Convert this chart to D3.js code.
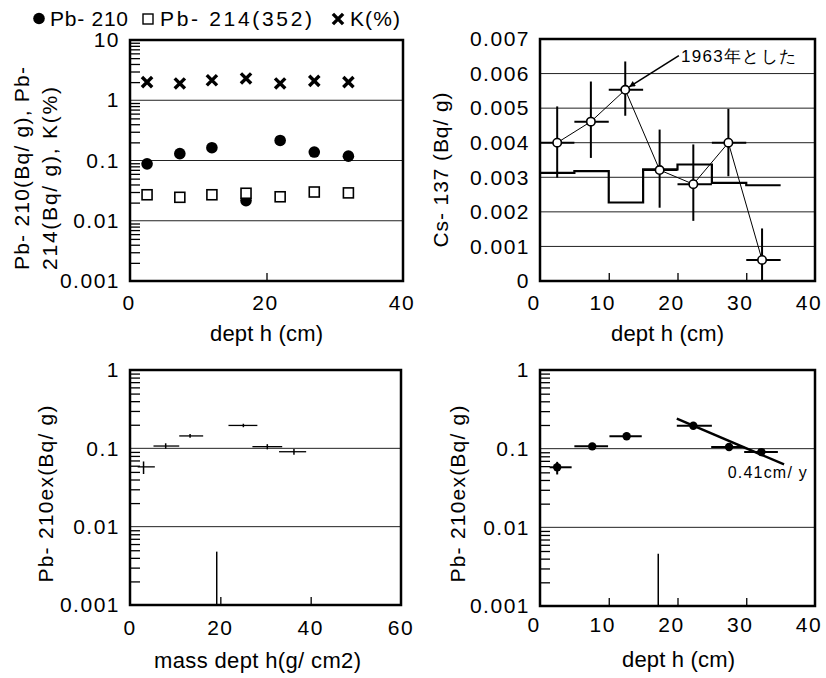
<!DOCTYPE html>
<html>
<head>
<meta charset="utf-8">
<script src="https://cdn.jsdelivr.net/npm/d3@7"></script>
<style>
body { margin: 0; background: #fff; }
text { font-family: "Liberation Sans", Arial, sans-serif; fill: #000; }
</style>
</head>
<body>
<div id="chart"></div>
<script>
var chart_width  = 826;
var chart_height = 678;

// --- panel 1: Pb-210, Pb-214, K vs depth
var depth_cm = [2.5, 7.3, 12, 17, 22, 27, 32];
var k_pct    = [2.0, 1.9, 2.15, 2.3, 1.9, 2.1, 2.0];
var pb210    = [0.088, 0.13, 0.163, 0.0216, 0.215, 0.138, 0.118];
var pb214    = [0.027, 0.0245, 0.027, 0.0286, 0.025, 0.030, 0.029];

// --- panel 2: Cs-137
var cs_depth = [2.5, 7.4, 12.4, 17.4, 22.3, 27.4, 32.3];
var cs_val   = [0.0040, 0.00461, 0.00553, 0.00321, 0.0028, 0.0040, 0.00061];
var cs_hi    = [0.00505, 0.00577, 0.00635, 0.00438, 0.00395, 0.00498, 0.00152];
var cs_lo    = [0.00299, 0.00356, 0.00478, 0.00212, 0.00174, 0.00303, 0.0];
var cs_xlo   = [0, 5, 10, 15, 20, 25, 30];
var cs_xhi   = [5, 10, 15, 20, 25, 30, 35];
var step_edges = [0, 5, 10, 15, 20, 25, 30, 35];
var step_vals  = [0.00313, 0.00318, 0.00227, 0.00323, 0.00337, 0.00284, 0.00277];

// --- panel 3: Pb-210ex vs mass depth
var md_x   = [3.0, 7.9, 13.3, 25.1, 30.4, 36.3];
var md_xlo = [1.7, 5.2, 10.9, 21.8, 27.1, 33.0];
var md_xhi = [5.5, 10.9, 16.2, 28.2, 33.7, 39.0];
var ex_val = [0.058, 0.107, 0.144, 0.196, 0.105, 0.0905];
var ex_lo  = [0.047, 0.099, 0.136, 0.186, 0.097, 0.083];
var ex_hi  = [0.068, 0.116, 0.152, 0.206, 0.113, 0.098];
var md_spike = [19.2, 0.0048];

// --- panel 4: Pb-210ex vs depth
var d_x   = [2.5, 7.6, 12.6, 22.3, 27.5, 32.2];
var d_xlo = [1.4, 5.0, 10.1, 19.9, 24.9, 29.7];
var d_xhi = [4.6, 9.9, 14.8, 25.0, 29.7, 34.6];
var d_spike = [17.2, 0.0046];
var fit_x = [19.9, 35.5];
var fit_y = [0.241, 0.063];

var svg = d3.select('#chart')
  .append('svg')
  .attr('width', chart_width)
  .attr('height', chart_height);

var logFmt = function(d) { return d3.format('~g')(d); };
var decades = function(dom) {
  var out = [];
  for (var v = dom[0]; v <= dom[1] * 1.0001; v *= 10) out.push(+v.toPrecision(3));
  return out;
};

// text with a fixed drawn length, to follow the wide lettering of the original
function label(g, s, size, len) {
  var t = g.append('text').attr('font-size', size).text(s);
  if (len) t.attr('textLength', len).attr('lengthAdjust', 'spacing');
  return t;
}

// frame, grid, ticks and labels for one panel
function panel(x, y, opt) {
  var x0 = x.range()[0], x1 = x.range()[1];
  var yb = y.range()[0], yt = y.range()[1];

  // grid lines
  svg.append('g').selectAll('line')
    .data(opt.grid)
    .enter()
    .append('line')
    .attr('x1', x0).attr('x2', x1)
    .attr('y1', function(d) { return y(d); })
    .attr('y2', function(d) { return y(d); })
    .attr('stroke', '#222').attr('stroke-width', 1);

  // minor ticks (log panels)
  if (opt.minor) {
    var ax = svg.append('g')
      .attr('transform', 'translate(' + x0 + ',0)')
      .call(d3.axisRight(y).tickValues(opt.minor).tickSize(10).tickFormat(''));
    ax.select('.domain').remove();
    ax.selectAll('line').attr('stroke-width', 1.3);
  }

  // inward x ticks
  var xt = svg.append('g')
    .attr('transform', 'translate(0,' + yb + ')')
    .call(d3.axisTop(x).tickValues(opt.xticks.slice(1, -1)).tickSize(8).tickFormat(''));
  xt.select('.domain').remove();
  xt.selectAll('line').attr('stroke-width', 1.3);

  // tick labels
  var yl = svg.append('g')
    .attr('transform', 'translate(' + x0 + ',0)')
    .call(d3.axisLeft(y).tickValues(opt.yticks).tickSize(0).tickPadding(10).tickFormat(opt.yfmt));
  yl.select('.domain').remove();
  yl.selectAll('text')
    .attr('font-size', 21).attr('letter-spacing', 1.5)
    .attr('font-family', '"Liberation Sans", Arial, sans-serif');

  svg.append('g').selectAll('text')
    .data(opt.xticks)
    .enter()
    .append('text')
    .attr('x', function(d) { return x(d) + opt.xlabDx; })
    .attr('y', opt.xlabY)
    .attr('text-anchor', 'middle')
    .attr('font-size', 21).attr('letter-spacing', 1.5)
    .text(function(d) { return d; });

  // frame
  svg.append('rect')
    .attr('x', x0).attr('y', yt)
    .attr('width', x1 - x0).attr('height', yb - yt)
    .attr('fill', 'none').attr('stroke', '#000').attr('stroke-width', 2.5);

  // titles
  label(svg, opt.xtitle, 22, opt.xtitleLen)
    .attr('x', (x0 + x1) / 2 + opt.xtitleDx).attr('y', opt.xtitleY)
    .attr('text-anchor', 'middle');

  opt.ytitle.forEach(function(t) {
    label(svg, t.s, 21, t.len)
      .attr('transform', 'translate(' + t.x + ',' + t.y + ') rotate(-90)')
      .attr('text-anchor', t.anchor);
  });
}

function hbar(xs, ys, x, y, w) {
  return svg.append('g').selectAll('line').data(xs).enter().append('line')
    .attr('x1', function(d) { return x(d[0]); })
    .attr('x2', function(d) { return x(d[1]); })
    .attr('y1', function(d, i) { return y(ys[i]); })
    .attr('y2', function(d, i) { return y(ys[i]); })
    .attr('stroke', '#000').attr('stroke-width', w);
}
function vbar(xs, ys, x, y, w) {
  return svg.append('g').selectAll('line').data(ys).enter().append('line')
    .attr('x1', function(d, i) { return x(xs[i]); })
    .attr('x2', function(d, i) { return x(xs[i]); })
    .attr('y1', function(d) { return y(d[0]); })
    .attr('y2', function(d) { return y(d[1]); })
    .attr('stroke', '#000').attr('stroke-width', w);
}

// ================= panel 1 =================
var x1s = d3.scaleLinear().domain([0, 40]).range([130, 403]);
var y1s = d3.scaleLog().domain([0.001, 10]).range([281, 40]);
var dec1 = decades(y1s.domain());
panel(x1s, y1s, {
  grid: [0.01, 0.1, 1],
  minor: y1s.ticks().filter(function(d) { return dec1.indexOf(+d.toPrecision(3)) < 0; }),
  yticks: dec1, yfmt: logFmt,
  xticks: [0, 20, 40], xlabY: 310, xlabDx: -1,
  xtitle: 'dept h (cm)', xtitleY: 341, xtitleDx: 0, xtitleLen: 113,
  ytitle: [
    {s: 'Pb- 210(Bq/ g), Pb-', x: 29, y: 270, anchor: 'start', len: 203},
    {s: '214(Bq/ g), K(%)', x: 57, y: 270, anchor: 'start', len: 183}
  ]
});

svg.append('g').selectAll('circle')
  .data(pb210).enter().append('circle')
  .attr('cx', function(d, i) { return x1s(depth_cm[i]); })
  .attr('cy', function(d) { return y1s(d); })
  .attr('r', 5.8).attr('fill', '#000');

svg.append('g').selectAll('rect')
  .data(pb214).enter().append('rect')
  .attr('x', function(d, i) { return x1s(depth_cm[i]) - 5; })
  .attr('y', function(d) { return y1s(d) - 5; })
  .attr('width', 10).attr('height', 10)
  .attr('fill', '#fff').attr('stroke', '#000').attr('stroke-width', 1.6);

var xSym = d3.symbol().type(d3.symbolTimes).size(70);
svg.append('g').selectAll('path')
  .data(k_pct).enter().append('path')
  .attr('d', xSym)
  .attr('transform', function(d, i) {
    return 'translate(' + x1s(depth_cm[i]) + ',' + y1s(d) + ')';
  })
  .attr('fill', 'none').attr('stroke', '#000').attr('stroke-width', 3.4);

// legend
var legend = svg.append('g');
legend.append('circle').attr('cx', 39).attr('cy', 18.5).attr('r', 5.8).attr('fill', '#000');
label(legend, 'Pb- 210', 21, 78).attr('x', 50).attr('y', 25.5);
legend.append('rect').attr('x', 143).attr('y', 14).attr('width', 10).attr('height', 10)
  .attr('fill', '#fff').attr('stroke', '#000').attr('stroke-width', 1.4);
label(legend, 'Pb- 214(352)', 21, 152).attr('x', 160).attr('y', 25.5);
legend.append('path').attr('d', xSym).attr('transform', 'translate(338,19)')
  .attr('fill', 'none').attr('stroke', '#000').attr('stroke-width', 3.4);
label(legend, 'K(%)', 21, 50).attr('x', 350).attr('y', 25.5);

// ================= panel 2 =================
var x2s = d3.scaleLinear().domain([0, 40]).range([540, 815]);
var y2s = d3.scaleLinear().domain([0, 0.007]).range([281, 39]);
var cs_ticks = d3.range(0, 0.0075, 0.001).map(function(d) { return +d.toFixed(3); });
panel(x2s, y2s, {
  grid: cs_ticks.slice(1, -1),
  minor: null,
  yticks: cs_ticks,
  yfmt: function(d) { return d === 0 ? '0' : d3.format('.3f')(d); },
  xticks: [0, 10, 20, 30, 40], xlabY: 310, xlabDx: -6,
  xtitle: 'dept h (cm)', xtitleY: 341, xtitleDx: -10, xtitleLen: 113,
  ytitle: [{s: 'Cs- 137 (Bq/ g)', x: 448, y: 170, anchor: 'middle', len: 155}]
});

// step line
var steps = step_vals.map(function(v, i) { return {x: step_edges[i], v: v}; });
steps.push({x: step_edges[step_edges.length - 1], v: step_vals[step_vals.length - 1]});
svg.append('path')
  .datum(steps)
  .attr('d', d3.line()
    .x(function(d) { return x2s(d.x); })
    .y(function(d) { return y2s(d.v); })
    .curve(d3.curveStepAfter))
  .attr('fill', 'none').attr('stroke', '#000').attr('stroke-width', 2.2);

// error bars
vbar(cs_depth, cs_val.map(function(d, i) { return [cs_lo[i], cs_hi[i]]; }), x2s, y2s, 2);
hbar(cs_xlo.map(function(d, i) { return [d, cs_xhi[i]]; }), cs_val, x2s, y2s, 2);

// connecting line
svg.append('path')
  .datum(cs_val)
  .attr('d', d3.line()
    .x(function(d, i) { return x2s(cs_depth[i]); })
    .y(function(d) { return y2s(d); }))
  .attr('fill', 'none').attr('stroke', '#000').attr('stroke-width', 1);

svg.append('g').selectAll('circle')
  .data(cs_val).enter().append('circle')
  .attr('cx', function(d, i) { return x2s(cs_depth[i]); })
  .attr('cy', function(d) { return y2s(d); })
  .attr('r', 4.2)
  .attr('fill', '#fff').attr('stroke', '#000').attr('stroke-width', 1.6);

// annotation arrow
svg.append('defs').append('marker')
  .attr('id', 'ah').attr('viewBox', '0 0 10 10')
  .attr('refX', 10).attr('refY', 5)
  .attr('markerWidth', 11).attr('markerHeight', 6)
  .attr('markerUnits', 'userSpaceOnUse')
  .attr('orient', 'auto')
  .append('path').attr('d', 'M0,0L10,5L0,10z').attr('fill', '#000');
svg.append('line')
  .attr('x1', x2s(20.2)).attr('y1', y2s(0.00652))
  .attr('x2', x2s(12.4) + 4).attr('y2', y2s(cs_val[2]) - 3)
  .attr('stroke', '#000').attr('stroke-width', 1.6)
  .attr('marker-end', 'url(#ah)');
label(svg, '1963年とした', 17, 115)
  .attr('x', x2s(20.5)).attr('y', y2s(0.00652) + 6)
  .attr('font-family', '"Liberation Sans", "Noto Sans CJK JP", sans-serif');

// ================= panel 3 =================
var x3s = d3.scaleLinear().domain([0, 60]).range([130, 401]);
var y3s = d3.scaleLog().domain([0.001, 1]).range([605, 370]);
var dec3 = decades(y3s.domain());
panel(x3s, y3s, {
  grid: [0.01, 0.1],
  minor: y3s.ticks().filter(function(d) { return dec3.indexOf(+d.toPrecision(3)) < 0; }),
  yticks: dec3, yfmt: logFmt,
  xticks: [0, 20, 40, 60], xlabY: 635, xlabDx: 0,
  xtitle: 'mass dept h(g/ cm2)', xtitleY: 668, xtitleDx: -8, xtitleLen: 207,
  ytitle: [{s: 'Pb- 210ex(Bq/ g)', x: 53, y: 494, anchor: 'middle', len: 177}]
});
hbar(md_xlo.map(function(d, i) { return [d, md_xhi[i]]; }), ex_val, x3s, y3s, 1.3);
vbar(md_x, ex_val.map(function(d, i) { return [ex_lo[i], ex_hi[i]]; }), x3s, y3s, 1.5);
svg.append('line')
  .attr('x1', x3s(md_spike[0])).attr('x2', x3s(md_spike[0]))
  .attr('y1', y3s(0.001)).attr('y2', y3s(md_spike[1]))
  .attr('stroke', '#000').attr('stroke-width', 1.5);

// ================= panel 4 =================
var x4s = d3.scaleLinear().domain([0, 40]).range([540, 815]);
var y4s = d3.scaleLog().domain([0.001, 1]).range([606, 370]);
var dec4 = decades(y4s.domain());
panel(x4s, y4s, {
  grid: [0.01, 0.1],
  minor: y4s.ticks().filter(function(d) { return dec4.indexOf(+d.toPrecision(3)) < 0; }),
  yticks: dec4, yfmt: logFmt,
  xticks: [0, 10, 20, 30, 40], xlabY: 632, xlabDx: -6,
  xtitle: 'dept h (cm)', xtitleY: 667, xtitleDx: 1, xtitleLen: 113,
  ytitle: [{s: 'Pb- 210ex(Bq/ g)', x: 465, y: 494, anchor: 'middle', len: 177}]
});
hbar(d_xlo.map(function(d, i) { return [d, d_xhi[i]]; }), ex_val, x4s, y4s, 2);
vbar(d_x, ex_val.map(function(d, i) { return [ex_lo[i], ex_hi[i]]; }), x4s, y4s, 2);
svg.append('g').selectAll('circle')
  .data(ex_val).enter().append('circle')
  .attr('cx', function(d, i) { return x4s(d_x[i]); })
  .attr('cy', function(d) { return y4s(d); })
  .attr('r', 4.2).attr('fill', '#000');
svg.append('line')
  .attr('x1', x4s(d_spike[0])).attr('x2', x4s(d_spike[0]))
  .attr('y1', y4s(0.001)).attr('y2', y4s(d_spike[1]))
  .attr('stroke', '#000').attr('stroke-width', 1.5);
svg.append('line')
  .attr('x1', x4s(fit_x[0])).attr('y1', y4s(fit_y[0]))
  .attr('x2', x4s(fit_x[1])).attr('y2', y4s(fit_y[1]))
  .attr('stroke', '#000').attr('stroke-width', 2.4);
label(svg, '0.41cm/ y', 16, 79)
  .attr('x', x4s(27.3)).attr('y', y4s(0.0424));
</script>
</body>
</html>
